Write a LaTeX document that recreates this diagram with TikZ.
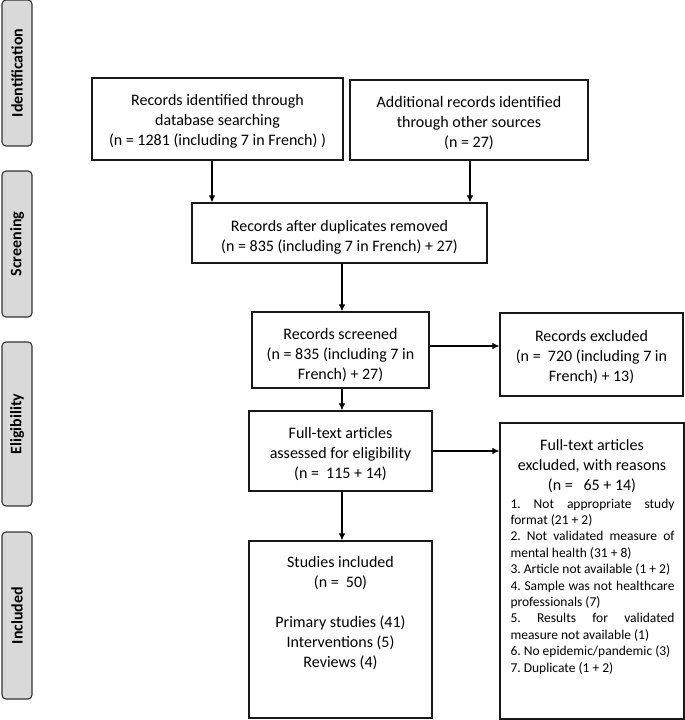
\documentclass[tikz,border=0pt]{standalone}
\usepackage{fontspec}
\setmainfont{Carlito}
\usetikzlibrary{arrows.meta}
\begin{document}
\begin{tikzpicture}[x=1pt,y=-1pt,
  box/.style={draw=black!90, line width=1.1pt, fill=white, inner sep=0pt},
  side/.style={draw=black!80, line width=1.1pt, fill=black!15, rounded corners=4pt, inner sep=0pt,
    rotate=90, minimum height=30pt, font=\fontsize{16}{19}\selectfont\bfseries},
  txt/.style={align=center, inner sep=0pt, font=\fontsize{16}{20}\selectfont},
  arr/.style={-{Latex[length=7pt,width=6.5pt]}, line width=1.1pt, draw=black}]
\useasboundingbox (0,0) rectangle (685,720);

% side labels
\node[side, minimum width=146pt] (s1) at (17,73) {Identification};
\node[side, minimum width=146pt] (s2) at (17,244) {Screening};
\node[side, minimum width=164pt] (s3) at (17,424) {Eligibility};
\node[side, minimum width=167pt] (s4) at (17,615.5) {Included};

% boxes
\node[box, minimum width=251pt, minimum height=82pt] (b1) at (217.5,119) {};
\node[txt] (b1t) at (217.5,121) {Records identified through\\database searching\\(n = 1281 (including 7 in French) )};

\node[box, minimum width=238pt, minimum height=80pt] (b2) at (469,120) {};
\node[txt] (b2t) at (469,123) {Additional records identified\\through other sources\\(n = 27)};

\node[box, minimum width=295pt, minimum height=60pt] (b3) at (339.5,233) {};
\node[txt] (b3t) at (339.5,237) {Records after duplicates removed\\(n = 835 (including 7 in French) + 27)};

\node[box, minimum width=177pt, minimum height=76pt] (b4) at (340.5,350) {};
\node[txt] (b4t) at (340.5,355) {Records screened\\(n = 835 (including 7 in\\French) + 27)};

\node[box, minimum width=183pt, minimum height=83pt] (b5) at (591.5,354.5) {};
\node[txt] (b5t) at (591.5,357) {Records excluded\\(n = ~720 (including 7 in\\French) + 13)};

\node[box, minimum width=183pt, minimum height=80pt] (b6) at (340.5,451) {};
\node[txt] (b6t) at (340.5,454) {Full-text articles\\assessed for eligibility\\(n = ~115 + 14)};

\node[box, minimum width=184pt, minimum height=296pt] (b7) at (592,571) {};
\node[anchor=base, inner sep=0pt] (b7h) at (592,450.5) {\parbox[t]{170pt}{\centering\fontsize{16}{20}\selectfont
  Full-text articles\\excluded, with reasons\\(n = ~~65 + 14)\par}};
\node[anchor=base, inner sep=0pt] (b7l) at (592.5,508) {\parbox[t]{164pt}{\frenchspacing\fontsize{13.5}{16.4}\selectfont
  1. Not appropriate study\linebreak format (21 + 2)\par
  2. Not validated measure of\linebreak mental health (31 + 8)\par
  3. Article not available (1 + 2)\par
  4. Sample was not healthcare\linebreak professionals (7)\par
  5. Results for validated\linebreak measure not available (1)\par
  6. No epidemic/pandemic (3)\par
  7. Duplicate (1 + 2)\par}};

\node[box, minimum width=183pt, minimum height=177pt] (b8) at (340.5,629.5) {};
\node[anchor=base, inner sep=0pt] (b8t) at (340.5,567.5) {\parbox[t]{183pt}{\centering\fontsize{16}{20}\selectfont
  Studies included\\(n = ~50)\\[20pt]Primary studies (41)\\Interventions (5)\\Reviews (4)\par}};

% connector columns
\coordinate (c1) at (212,0);
\coordinate (c2) at (470,0);
\coordinate (c3) at (342,0);
\coordinate (r1) at (0,346);

\draw[arr] (b1.south -| c1) -- (b3.north -| c1);
\draw[arr] (b2.south -| c2) -- (b3.north -| c2);
\draw[arr] (b3.south -| c3) -- (b4.north -| c3);
\draw[arr] (b4.east |- r1) -- (b5.west |- r1);
\draw[arr] (b4.south -| c3) -- (b6.north -| c3);
\draw[arr] (b6.east) -- (b7.west |- b6.east);
\draw[arr] (b6.south -| c3) -- (b8.north -| c3);
\end{tikzpicture}
\end{document}
